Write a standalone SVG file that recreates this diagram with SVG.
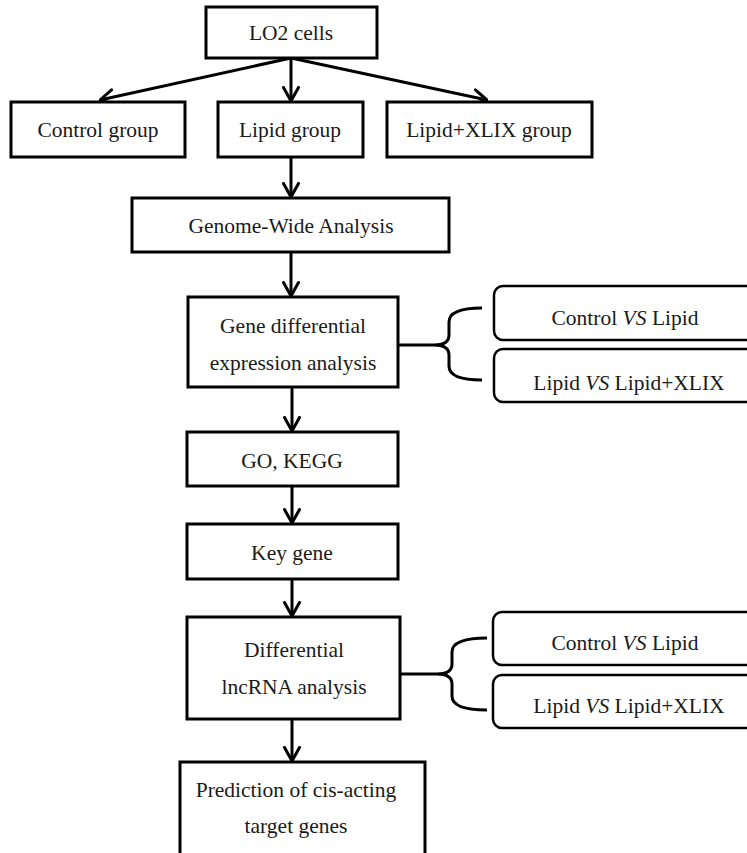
<svg xmlns="http://www.w3.org/2000/svg" width="747" height="853" viewBox="0 0 747 853">
<style>
.box{fill:#fff;stroke:#000;stroke-width:3}
.rbox{fill:#fff;stroke:#000;stroke-width:2.5}
.t{font-family:"Liberation Serif","Times New Roman",serif;font-size:21.5px;fill:#1a1a1a;text-anchor:middle}
.ln{fill:none;stroke:#000;stroke-width:3}
</style>
<defs>
<marker id="ah" viewBox="0 0 16 18" refX="15" refY="9" markerWidth="16" markerHeight="18" markerUnits="userSpaceOnUse" orient="auto">
<path d="M1.5,1.5 L15,9 L1.5,16.5" fill="none" stroke="#000" stroke-width="3" stroke-linejoin="round" stroke-linecap="round"/>
</marker>
</defs>
<rect width="747" height="853" fill="#fff"/>
<g id="connectors">
<line class="ln" x1="291" y1="58" x2="100" y2="100" marker-end="url(#ah)"/>
<line class="ln" x1="291" y1="58" x2="291" y2="101" marker-end="url(#ah)"/>
<line class="ln" x1="291" y1="58" x2="487" y2="100" marker-end="url(#ah)"/>
<line class="ln" x1="291" y1="157" x2="291" y2="197" marker-end="url(#ah)"/>
<line class="ln" x1="291" y1="252" x2="291" y2="296" marker-end="url(#ah)"/>
<line class="ln" x1="292" y1="387" x2="292" y2="431" marker-end="url(#ah)"/>
<line class="ln" x1="292" y1="486" x2="292" y2="523" marker-end="url(#ah)"/>
<line class="ln" x1="292" y1="579" x2="292" y2="616" marker-end="url(#ah)"/>
<line class="ln" x1="292" y1="719" x2="292" y2="761" marker-end="url(#ah)"/>
<line class="ln" x1="398" y1="345" x2="434" y2="345"/>
<path class="ln" d="M482,308 Q449,308 449,322 L449,335 Q449,345 434,345 Q449,345 449,355 L449,366 Q449,380 482,380"/>
<line class="ln" x1="400" y1="674" x2="437" y2="674"/>
<path class="ln" d="M487,638 Q452,638 452,652 L452,664 Q452,674 437,674 Q452,674 452,684 L452,696 Q452,710 487,710"/>
</g>
<g id="lo2"><rect class="box" x="206" y="7" width="171" height="51"/><text class="t" x="291" y="40">LO2 cells</text></g>
<g id="control"><rect class="box" x="11" y="102" width="174" height="55"/><text class="t" x="98" y="137">Control group</text></g>
<g id="lipid"><rect class="box" x="218" y="102" width="145" height="55"/><text class="t" x="290" y="137">Lipid group</text></g>
<g id="xlix"><rect class="box" x="387" y="102" width="205" height="55"/><text class="t" x="489" y="137">Lipid+XLIX group</text></g>
<g id="genome"><rect class="box" x="132" y="198" width="317" height="54"/><text class="t" x="291" y="233">Genome-Wide Analysis</text></g>
<g id="genediff"><rect class="box" x="188" y="297" width="210" height="90"/><text class="t" x="293" y="333">Gene differential</text><text class="t" x="293" y="370">expression analysis</text></g>
<g id="cmp1"><rect class="rbox" x="494" y="286" width="270" height="54" rx="9"/><text class="t" x="625" y="325">Control <tspan font-style="italic">VS</tspan> Lipid</text></g>
<g id="cmp2"><rect class="rbox" x="494" y="349" width="270" height="53" rx="9"/><text class="t" x="629" y="390">Lipid <tspan font-style="italic">VS</tspan> Lipid+XLIX</text></g>
<g id="gokegg"><rect class="box" x="187" y="432" width="211" height="54"/><text class="t" x="292" y="468">GO, KEGG</text></g>
<g id="keygene"><rect class="box" x="187" y="524" width="211" height="55"/><text class="t" x="292" y="560">Key gene</text></g>
<g id="difflnc"><rect class="box" x="187" y="617" width="213" height="102"/><text class="t" x="294" y="657">Differential</text><text class="t" x="294" y="694">lncRNA analysis</text></g>
<g id="cmp3"><rect class="rbox" x="493" y="612" width="270" height="53" rx="9"/><text class="t" x="625" y="650">Control <tspan font-style="italic">VS</tspan> Lipid</text></g>
<g id="cmp4"><rect class="rbox" x="493" y="675" width="270" height="53" rx="9"/><text class="t" x="629" y="713">Lipid <tspan font-style="italic">VS</tspan> Lipid+XLIX</text></g>
<g id="predict"><rect class="box" x="180" y="762" width="245" height="100"/><text class="t" x="296" y="797">Prediction of cis-acting</text><text class="t" x="296" y="833">target genes</text></g>
</svg>
